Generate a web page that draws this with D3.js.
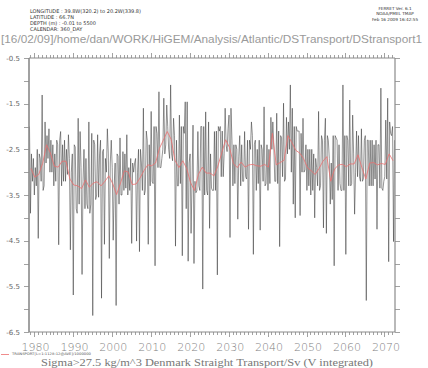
<!DOCTYPE html>
<html><head><meta charset="utf-8">
<script src="https://cdn.jsdelivr.net/npm/d3@7"></script>
<style>body{margin:0;background:#fff}svg{display:block}</style>
</head><body>
<svg id="c" width="428" height="368"></svg>
<script>
// ---- data ----
const startYear = 1978.72;            // first month of the record
const perYear = 4;                     // samples per year in the thin series
const transport = [
-2.0,-3.9,-2.6,-3.2, -2.7,-3.5,-2.9,-3.3, -2.5,-4.45,-2.6,-2.7, -3.2,-1.31,-3.4,-3.3,
-1.9,-2.8,-2.2,-2.7, -2.05,-3.0,-2.3,-3.0, -2.4,-3.3,-2.6,-3.2, -2.3,-2.4,-4.59,-2.3,
-2.11,-3.3,-2.4,-3.2, -2.3,-3.2,-2.5,-3.05, -2.18,-2.7,-4.70,-3.0, -2.6,-5.69,-2.4,-2.45,
-3.8,-3.9,-1.82,-3.7, -2.11,-2.9,-5.24,-3.2, -2.5,-3.8,-2.7,-3.7, -3.8,-1.9,-3.9,-3.7,
-2.15,-6.14,-2.3,-2.4, -3.6,-3.5,-2.18,-3.55, -2.6,-2.3,-5.76,-2.55, -2.5,-4.58,-2.7,-3.0,
-2.05,-2.6,-4.89,-2.8, -2.3,-2.9,-4.49,-3.3, -2.8,-5.92,-2.6,-2.65, -3.7,-2.25,-3.5,-3.5,
-2.55,-3.4,-2.6,-3.35, -2.18,-3.5,-2.9,-3.4, -2.7,-4.56,-2.8,-3.0, -2.8,-2.7,-4.51,-3.0,
-2.5,-4.74,-2.5,-2.8, -3.4,-1.6,-3.5,-3.4, -2.1,-2.3,-4.58,-2.4, -3.3,-1.67,-3.2,-3.25,
-2.0,-5.05,-2.0,-2.15, -2.9,-1.24,-2.9,-2.9, -2.7,-2.5,-1.38,-2.6, -2.4,-1.53,-2.0,-2.5,
-2.7,-1.09,-2.6,-2.75, -1.82,-2.2,-4.62,-2.3, -3.3,-3.3,-1.75,-3.25, -2.0,-4.83,-2.0,-2.15,
-1.46,-3.8,-1.46,-4.95, -2.8,-2.6,-4.34,-3.2, -1.97,-5.0,-3.2,-3.45, -3.4,-2.11,-3.3,-3.4,
-2.0,-2.0,-5.56,-2.0, -3.5,-1.68,-3.4,-3.5, -1.9,-4.23,-2.6,-3.35, -3.4,-3.4,-2.11,-3.4,
-2.1,-5.25,-2.0,-2.1, -2.0,-3.1,-2.1,-3.1, -2.6,-1.6,-2.4,-2.55, -2.05,-1.75,-4.43,-1.6,
-2.3,-3.3,-2.4,-3.25, -2.4,-2.5,-4.03,-2.65, -2.2,-3.3,-2.4,-3.2, -3.2,-2.11,-3.1,-3.15,
-2.3,-4.25,-2.3,-2.5, -1.9,-2.2,-4.80,-2.4, -2.3,-3.4,-2.5,-3.25, -2.3,-4.27,-2.4,-2.5,
-3.2,-1.57,-3.3,-3.25, -2.4,-3.4,-2.5,-3.25, -1.8,-2.5,-1.9,-2.4, -3.2,-3.2,-1.71,-3.25,
-2.1,-4.63,-2.2,-2.25, -3.1,-1.49,-3.2,-3.15, -1.8,-2.6,-1.9,-2.5, -1.09,-3.0,-1.6,-3.7,
-2.0,-4.0,-2.0,-2.1, -2.1,-2.1,-3.95,-2.15, -3.0,-1.82,-3.0,-2.95, -2.4,-3.4,-2.5,-3.3,
-2.5,-3.5,-2.5,-3.4, -2.6,-4.0,-2.7,-2.9, -3.3,-1.67,-3.4,-3.3, -2.2,-2.3,-4.22,-2.3,
-1.82,-4.34,-2.2,-2.3, -2.7,-3.7,-2.8,-3.6, -2.2,-5.05,-2.2,-2.25, -2.3,-3.4,-2.4,-3.25,
-3.4,-3.4,-1.09,-3.4, -2.2,-4.80,-2.2,-2.3, -3.3,-1.42,-3.3,-3.25, -1.75,-2.6,-3.92,-3.0,
-2.1,-3.1,-2.2,-3.1, -3.2,-2.05,-3.2,-3.15, -2.3,-2.2,-5.81,-2.3, -2.3,-3.3,-2.3,-3.3,
-2.3,-3.3,-2.4,-3.15, -2.3,-4.25,-2.4,-2.4, -3.35,-1.16,-3.35,-3.4, -3.2,-3.1,-1.86,-3.15,
-1.38,-4.96,-1.9,-2.15, -2.2,-2.0,-4.52,-2.3
];
const annualMean = [
-2.92,-3.11,-3.05,-2.81,-2.40,-2.58,-2.87,-2.89,-2.76,-2.76,
-3.15,-3.28,-3.30,-3.36,-3.17,-3.33,-3.24,-3.21,-3.30,-3.20,
-3.08,-3.25,-3.49,-3.24,-2.97,-3.00,-3.27,-3.26,-3.13,-2.97,
-2.84,-2.86,-2.80,-2.48,-2.30,-2.11,-2.28,-2.74,-2.90,-2.75,
-2.92,-3.23,-3.40,-3.05,-2.89,-3.02,-3.02,-3.08,-2.87,-2.58,
-2.29,-2.46,-2.81,-2.90,-2.78,-2.89,-2.84,-2.83,-2.86,-2.87,
-2.83,-2.89,-2.15,-2.84,-2.79,-2.74,-2.20,-2.35,-2.52,-2.58,
-2.70,-2.90,-2.97,-3.05,-2.92,-2.76,-2.66,-3.20,-2.93,-2.84,
-2.83,-2.88,-2.82,-2.82,-2.62,-2.90,-3.15,-2.80,-2.79,-2.84,
-2.81,-2.83,-2.60,-2.75
];
const yTicks = [-6.5,-6,-5.5,-5,-4.5,-4,-3.5,-3,-2.5,-2,-1.5,-1,-0.5];
const yLabels = [-6.5,-5.5,-4.5,-3.5,-2.5,-1.5,-0.5];
const xLabels = [1980,1990,2000,2010,2020,2030,2040,2050,2060,2070];
const header = ["LONGITUDE : 39.8W(320.2) to 20.2W(339.8)","LATITUDE : 66.7N","DEPTH (m) : -0.01 to 5500","CALENDAR: 360_DAY"];
const stamp = ["FERRET Ver. 6.1","NOAA/PMEL TMAP","Feb 16 2009 16:42:55"];
const title = "[16/02/09]/home/dan/WORK/HiGEM/Analysis/Atlantic/DSTransport/DStransport1";
const legendText = "TRANSPORT[L=1:1128:12@AVE]/1000000";
const xTitle = "Sigma>27.5 kg/m^3 Denmark Straight Transport/Sv (V integrated)";

// ---- layout ----
const L=29, R=395, T=58, B=332;
const nYears = annualMean.length;
const x = d3.scaleLinear().domain([startYear, startYear+nYears]).range([L,R]);
const y = d3.scaleLinear().domain([-6.5,-0.5]).range([B,T]);
const svg = d3.select("#c");
const axisCol = "#8a8a8a";

svg.append("clipPath").attr("id","clip").append("rect")
  .attr("x",L).attr("y",T).attr("width",R-L).attr("height",B-T);

// thin series
const line = d3.line().x(d=>x(d.t)).y(d=>y(d.v));
const thin = transport.map((v,i)=>({t:startYear+(i+0.5)/perYear, v}));
svg.append("path").datum(thin).attr("clip-path","url(#clip)")
  .attr("d",line).attr("fill","none").attr("stroke","#3a3a3a")
  .attr("stroke-width",0.9).attr("stroke-opacity",0.6);

// annual mean
const ann = annualMean.map((v,i)=>({t:startYear+i+0.5, v}));
svg.append("path").datum(ann).attr("clip-path","url(#clip)")
  .attr("d",line).attr("fill","none").attr("stroke","#ec6f6f")
  .attr("stroke-width",0.8);

// frame axes
const yearTicks = d3.range(Math.ceil(startYear), Math.floor(startYear+nYears)+1);
const gA = svg.append("g").attr("stroke",axisCol).attr("fill","none");
gA.append("line").attr("x1",L).attr("x2",R).attr("y1",T).attr("y2",T);
gA.append("line").attr("x1",L).attr("x2",R).attr("y1",B).attr("y2",B);
gA.append("line").attr("x1",L).attr("x2",L).attr("y1",T).attr("y2",B).attr("stroke-width",1.6);
gA.append("line").attr("x1",R).attr("x2",R).attr("y1",T).attr("y2",B).attr("stroke-width",1.2);
yearTicks.forEach(yr=>{
  const len = yr%10===0?5:3;
  const px = Math.round(x(yr))+0.5;
  gA.append("line").attr("x1",px).attr("x2",px).attr("y1",T).attr("y2",T-len).attr("stroke-width",0.8);
  gA.append("line").attr("x1",px).attr("x2",px).attr("y1",B).attr("y2",B+len).attr("stroke-width",0.8);
});
yTicks.forEach(v=>{
  const py = Math.round(y(v))+0.5;
  gA.append("line").attr("x1",L).attr("x2",L-5).attr("y1",py).attr("y2",py).attr("stroke-width",0.8);
  gA.append("line").attr("x1",R).attr("x2",R+5).attr("y1",py).attr("y2",py).attr("stroke-width",0.8);
});

const font = "DejaVu Sans, sans-serif";
svg.append("g").selectAll("text").data(yLabels).join("text")
  .attr("x",20).attr("y",d=>y(d)+2.5).attr("text-anchor","end")
  .attr("font-family",font).attr("font-size",7).attr("fill","#666").text(d=>d);
svg.append("g").selectAll("text").data(xLabels).join("text")
  .attr("x",d=>x(d)+1.5).attr("y",350.5).attr("text-anchor","middle")
  .attr("font-family",font).attr("font-size",11).attr("fill","#808080")
  .attr("font-weight",300).text(d=>d);

// header texts
svg.append("g").selectAll("text").data(header).join("text")
  .attr("x",30).attr("y",(d,i)=>[12.5,18.5,24.8,31][i])
  .attr("font-family",font).attr("font-size",5).attr("fill","#333").text(d=>d);
svg.append("g").selectAll("text").data(stamp).join("text")
  .attr("x",395).attr("y",(d,i)=>[10,15.3,20.6][i]).attr("text-anchor","middle")
  .attr("font-family",font).attr("font-size",4.2).attr("fill","#333").text(d=>d);

svg.append("text").attr("x",1).attr("y",42.5)
  .attr("font-family","Liberation Sans Narrow, Liberation Sans, sans-serif")
  .attr("font-size",11.5).attr("fill","#9a9a9a").attr("textLength",421)
  .attr("lengthAdjust","spacingAndGlyphs").text(title);

// legend
svg.append("line").attr("x1",1).attr("x2",9).attr("y1",354.5).attr("y2",354.5)
  .attr("stroke","#ec6f6f").attr("stroke-width",0.8);
svg.append("text").attr("x",12).attr("y",355.3).attr("font-family",font)
  .attr("font-size",3.4).attr("fill","#555").attr("textLength",79)
  .attr("lengthAdjust","spacingAndGlyphs").text(legendText);

svg.append("text").attr("x",41).attr("y",366).attr("font-family","Liberation Serif, serif")
  .attr("font-size",11).attr("fill","#777").attr("textLength",332)
  .attr("lengthAdjust","spacingAndGlyphs").text(xTitle);
</script>
</body></html>
